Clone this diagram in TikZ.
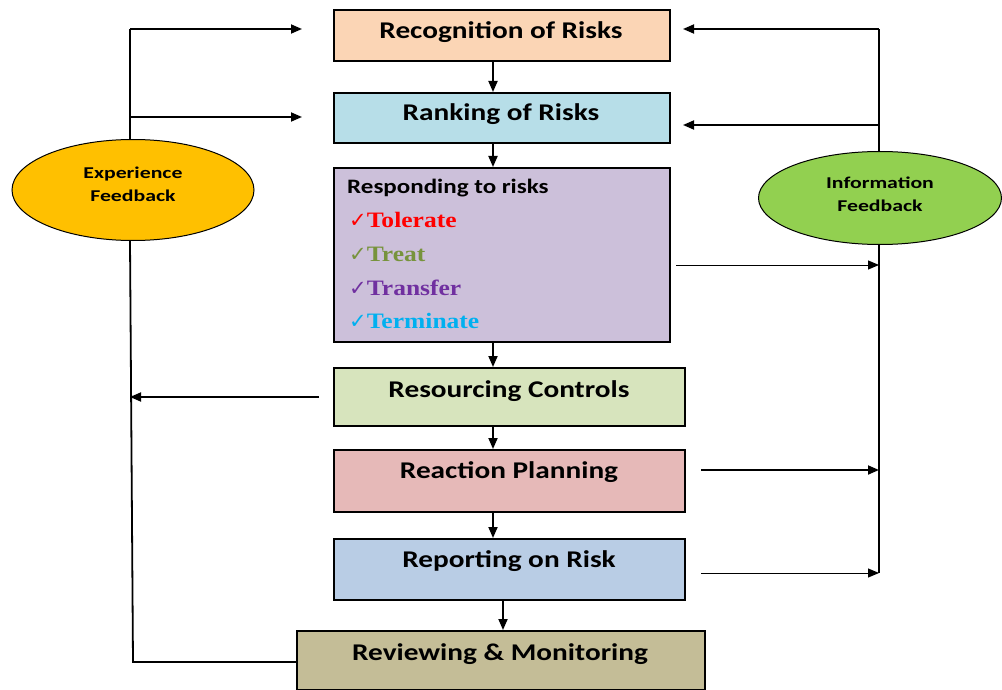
\documentclass[tikz,border=0pt]{standalone}
\usepackage{fontspec}
\setmainfont{Carlito}
\newfontfamily\wideb[FakeStretch=1.22]{Carlito}
\newfontfamily\widee[FakeStretch=1.32]{Carlito}
\newfontfamily\serifw[FakeStretch=1.16]{Liberation Serif}
\newfontfamily\symf{DejaVu Sans}
\usetikzlibrary{arrows.meta,shapes.geometric}
\definecolor{cPeach}{HTML}{FBD5B5}
\definecolor{cBlue}{HTML}{B7DEE8}
\definecolor{cLav}{HTML}{CCC0DA}
\definecolor{cGreenL}{HTML}{D7E4BD}
\definecolor{cRose}{HTML}{E6B9B8}
\definecolor{cSteel}{HTML}{B9CDE5}
\definecolor{cKhaki}{HTML}{C4BD97}
\definecolor{cOrange}{HTML}{FFC000}
\definecolor{cLime}{HTML}{92D050}
\definecolor{cRed}{HTML}{FF0000}
\definecolor{cOlive}{HTML}{77933C}
\definecolor{cPurple}{HTML}{7030A0}
\definecolor{cCyan}{HTML}{00B0F0}
\newcommand{\tick}{{\symf\fontsize{21}{22}\selectfont ✓}}
\begin{document}
\begin{tikzpicture}[x=1pt,y=-1pt,
  box/.style={draw=black,line width=1.6pt,anchor=north west,inner sep=0pt},
  btext/.style={anchor=base,inner sep=0pt,font=\wideb\fontsize{24}{28}\selectfont\bfseries},
  ell/.style={ellipse,draw=black,line width=1pt,inner sep=0pt,align=center,font=\widee\fontsize{16.5}{23}\selectfont\bfseries},
  conn/.style={line width=1.8pt},
  thin/.style={line width=1pt},
  arr/.style={-{Triangle[length=11pt,width=9pt]}},
  opt/.style={font=\serifw\fontsize{22}{24}\selectfont\bfseries,anchor=base west,inner sep=0pt}]
\useasboundingbox (0,0) rectangle (1002,690);
% boxes
\node[box,fill=cPeach,minimum width=336pt,minimum height=51pt] (rec) at (333,9) {};
\node[btext] at (501,38.5) {Recognition of Risks};
\node[box,fill=cBlue,minimum width=336pt,minimum height=50pt] (rank) at (333,92) {};
\node[btext] at (501,121) {Ranking of Risks};
\node[box,fill=cLav,minimum width=336pt,minimum height=174pt] (resp) at (333,167) {};
\node[font=\wideb\fontsize{20.5}{24}\selectfont\bfseries,anchor=base west,inner sep=0pt] at (347,193.5) {Responding to risks};
\node[opt,text=cRed] at (349,227.5) {\tick Tolerate};
\node[opt,text=cOlive] at (349,261.5) {\tick Treat};
\node[opt,text=cPurple] at (349,295.5) {\tick Transfer};
\node[opt,text=cCyan] at (349,328.5) {\tick Terminate};
\node[box,fill=cGreenL,minimum width=351pt,minimum height=58pt] (res) at (333,367) {};
\node[btext] at (509,397) {Resourcing Controls};
\node[box,fill=cRose,minimum width=351pt,minimum height=62pt] (reac) at (333,449) {};
\node[btext] at (509,478) {Reaction Planning};
\node[box,fill=cSteel,minimum width=351pt,minimum height=61pt] (repo) at (333,538) {};
\node[btext] at (509,567) {Reporting on Risk};
\node[box,fill=cKhaki,minimum width=408pt,minimum height=59pt] (rev) at (296,630) {};
\node[btext] at (500,660) {Reviewing \& Monitoring};
% ellipses
\node[ell,fill=cOrange,minimum width=242pt,minimum height=101pt,text depth=11pt] (exp) at (133,190) {Experience\\Feedback};
\node[ell,fill=cLime,minimum width=243pt,minimum height=93pt,text depth=7pt] (info) at (880,198) {Information\\Feedback};
% vertical flow
\draw[conn,arr] (rec.south -| 493,0) -- (rank.north -| 493,0);
\draw[conn,arr] (rank.south -| 493,0) -- (resp.north -| 493,0);
\draw[conn,arr] (resp.south -| 493,0) -- (res.north -| 493,0);
\draw[conn,arr] (res.south -| 493,0) -- (reac.north -| 493,0);
\draw[conn,arr] (reac.south -| 493,0) -- (repo.north -| 493,0);
\draw[conn,arr] (repo.south -| 503,0) -- (rev.north -| 503,0);
% left feedback
\coordinate (lt) at (130,29);
\coordinate (lm) at (130,117);
\coordinate (lb) at (133,662);
\coordinate (lr) at (130,397);
\draw[conn] (exp.north -| 130,0) -- (lt);
\draw[conn,arr] (lt) -- (302,29);
\draw[conn,arr] (lm) -- (302,117);
\draw[conn] (exp.south -| 130,0) -- (lb) -- (rev.west |- lb);
\draw[conn,arr] (319,397) -- (lr);
% right feedback
\coordinate (rt) at (879,29);
\coordinate (rm) at (879,125);
\coordinate (r1) at (879,265);
\coordinate (r2) at (879,470);
\coordinate (r3) at (879,573);
\draw[conn] (info.north -| 879,0) -- (rt);
\draw[conn,arr] (rt) -- (683,29);
\draw[conn,arr] (rm) -- (683,125);
\draw[conn] (info.south -| 879,0) -- (r3);
\draw[thin,arr] (676,265) -- (r1);
\draw[conn,arr] (701,470) -- (r2);
\draw[thin,arr] (701,573) -- (r3);
\end{tikzpicture}
\end{document}
